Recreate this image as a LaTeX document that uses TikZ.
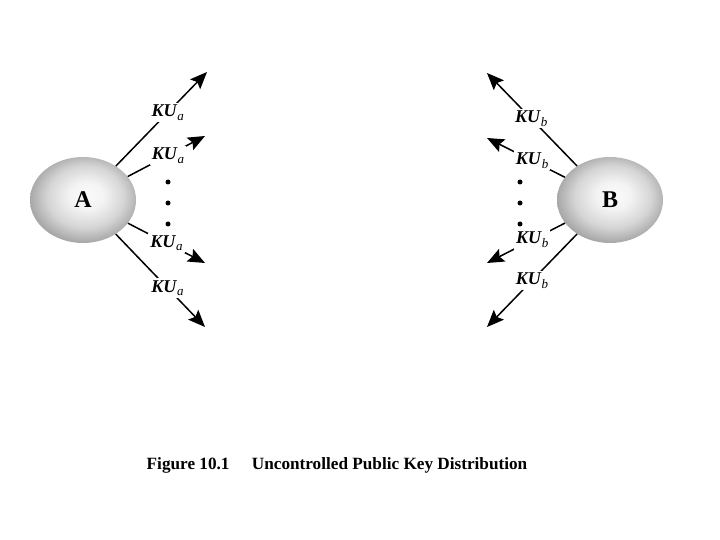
\documentclass[tikz,border=0pt]{standalone}
\usepackage{fontspec}
\setmainfont{Liberation Serif}
\usetikzlibrary{arrows.meta,shapes.geometric}
\definecolor{ballrim}{HTML}{A8A8A8}
\definecolor{ballcore}{HTML}{FAFAFA}
\pgfdeclareradialshading{ballshade}{\pgfpoint{2bp}{3bp}}{%
  color(0bp)=(ballcore); color(8bp)=(ballcore!92!ballrim); color(18bp)=(ballcore!55!ballrim);
  color(26bp)=(ballrim); color(50bp)=(ballrim)}
\newcommand{\kulbltext}[1]{\textbf{\textit{KU}}\raisebox{-3.5pt}{\fontsize{13pt}{13pt}\selectfont\itshape #1}}
\tikzset{
  party/.style={ellipse, minimum width=106pt, minimum height=86pt, inner sep=0pt, shading=ballshade, font=\fontsize{24pt}{24pt}\selectfont\bfseries},
  keyarr/.style={-{Stealth[length=17pt,width=14pt,inset=3pt]}, draw=black, line width=1.5pt},
  kulbl/.style={fill=white, inner sep=2pt, font=\fontsize{18pt}{18pt}\selectfont},
  dotmark/.style={circle, fill=black, inner sep=0pt, minimum size=5pt},
  capt/.style={font=\fontsize{17.2pt}{17.2pt}\selectfont\bfseries, inner sep=0pt},
}

\begin{document}
\begin{tikzpicture}[x=1pt,y=-1pt]
  \useasboundingbox (0,0) rectangle (720,540);
  \node[party] (A) at (83,200) {A};
  \node[party] (B) at (610,200) {B};
  \coordinate (ta1) at (207,72);
  \coordinate (ta2) at (205,136);
  \coordinate (ta3) at (205,263);
  \coordinate (ta4) at (205,327);
  \coordinate (tb1) at (487,73);
  \coordinate (tb2) at (487,138);
  \coordinate (tb3) at (487,263);
  \coordinate (tb4) at (487,327);
  \draw[keyarr] (A) -- node[kulbl, pos=0.57] (ka1) {\kulbltext{a}} (ta1);
  \draw[keyarr] (A) -- node[kulbl, pos=0.52] (ka2) {\kulbltext{a}} (ta2);
  \draw[keyarr] (A) -- node[kulbl, pos=0.50] (ka3) {\kulbltext{a}} (ta3);
  \draw[keyarr] (A) -- node[kulbl, pos=0.58] (ka4) {\kulbltext{a}} (ta4);
  \draw[keyarr] (B) -- node[kulbl, pos=0.51] (kb1) {\kulbltext{b}} (tb1);
  \draw[keyarr] (B) -- node[kulbl, pos=0.42] (kb2) {\kulbltext{b}} (tb2);
  \draw[keyarr] (B) -- node[kulbl, pos=0.42] (kb3) {\kulbltext{b}} (tb3);
  \draw[keyarr] (B) -- node[kulbl, pos=0.50] (kb4) {\kulbltext{b}} (tb4);
  \foreach \y [count=\i] in {182,203,224} {
    \node[dotmark] (da\i) at (168,\y) {};
    \node[dotmark] (db\i) at (520,\y) {};
  }
  \node[capt] (cap) at (337,465) {Figure 10.1\hspace{1.3em}Uncontrolled Public Key Distribution};
\end{tikzpicture}
\end{document}
